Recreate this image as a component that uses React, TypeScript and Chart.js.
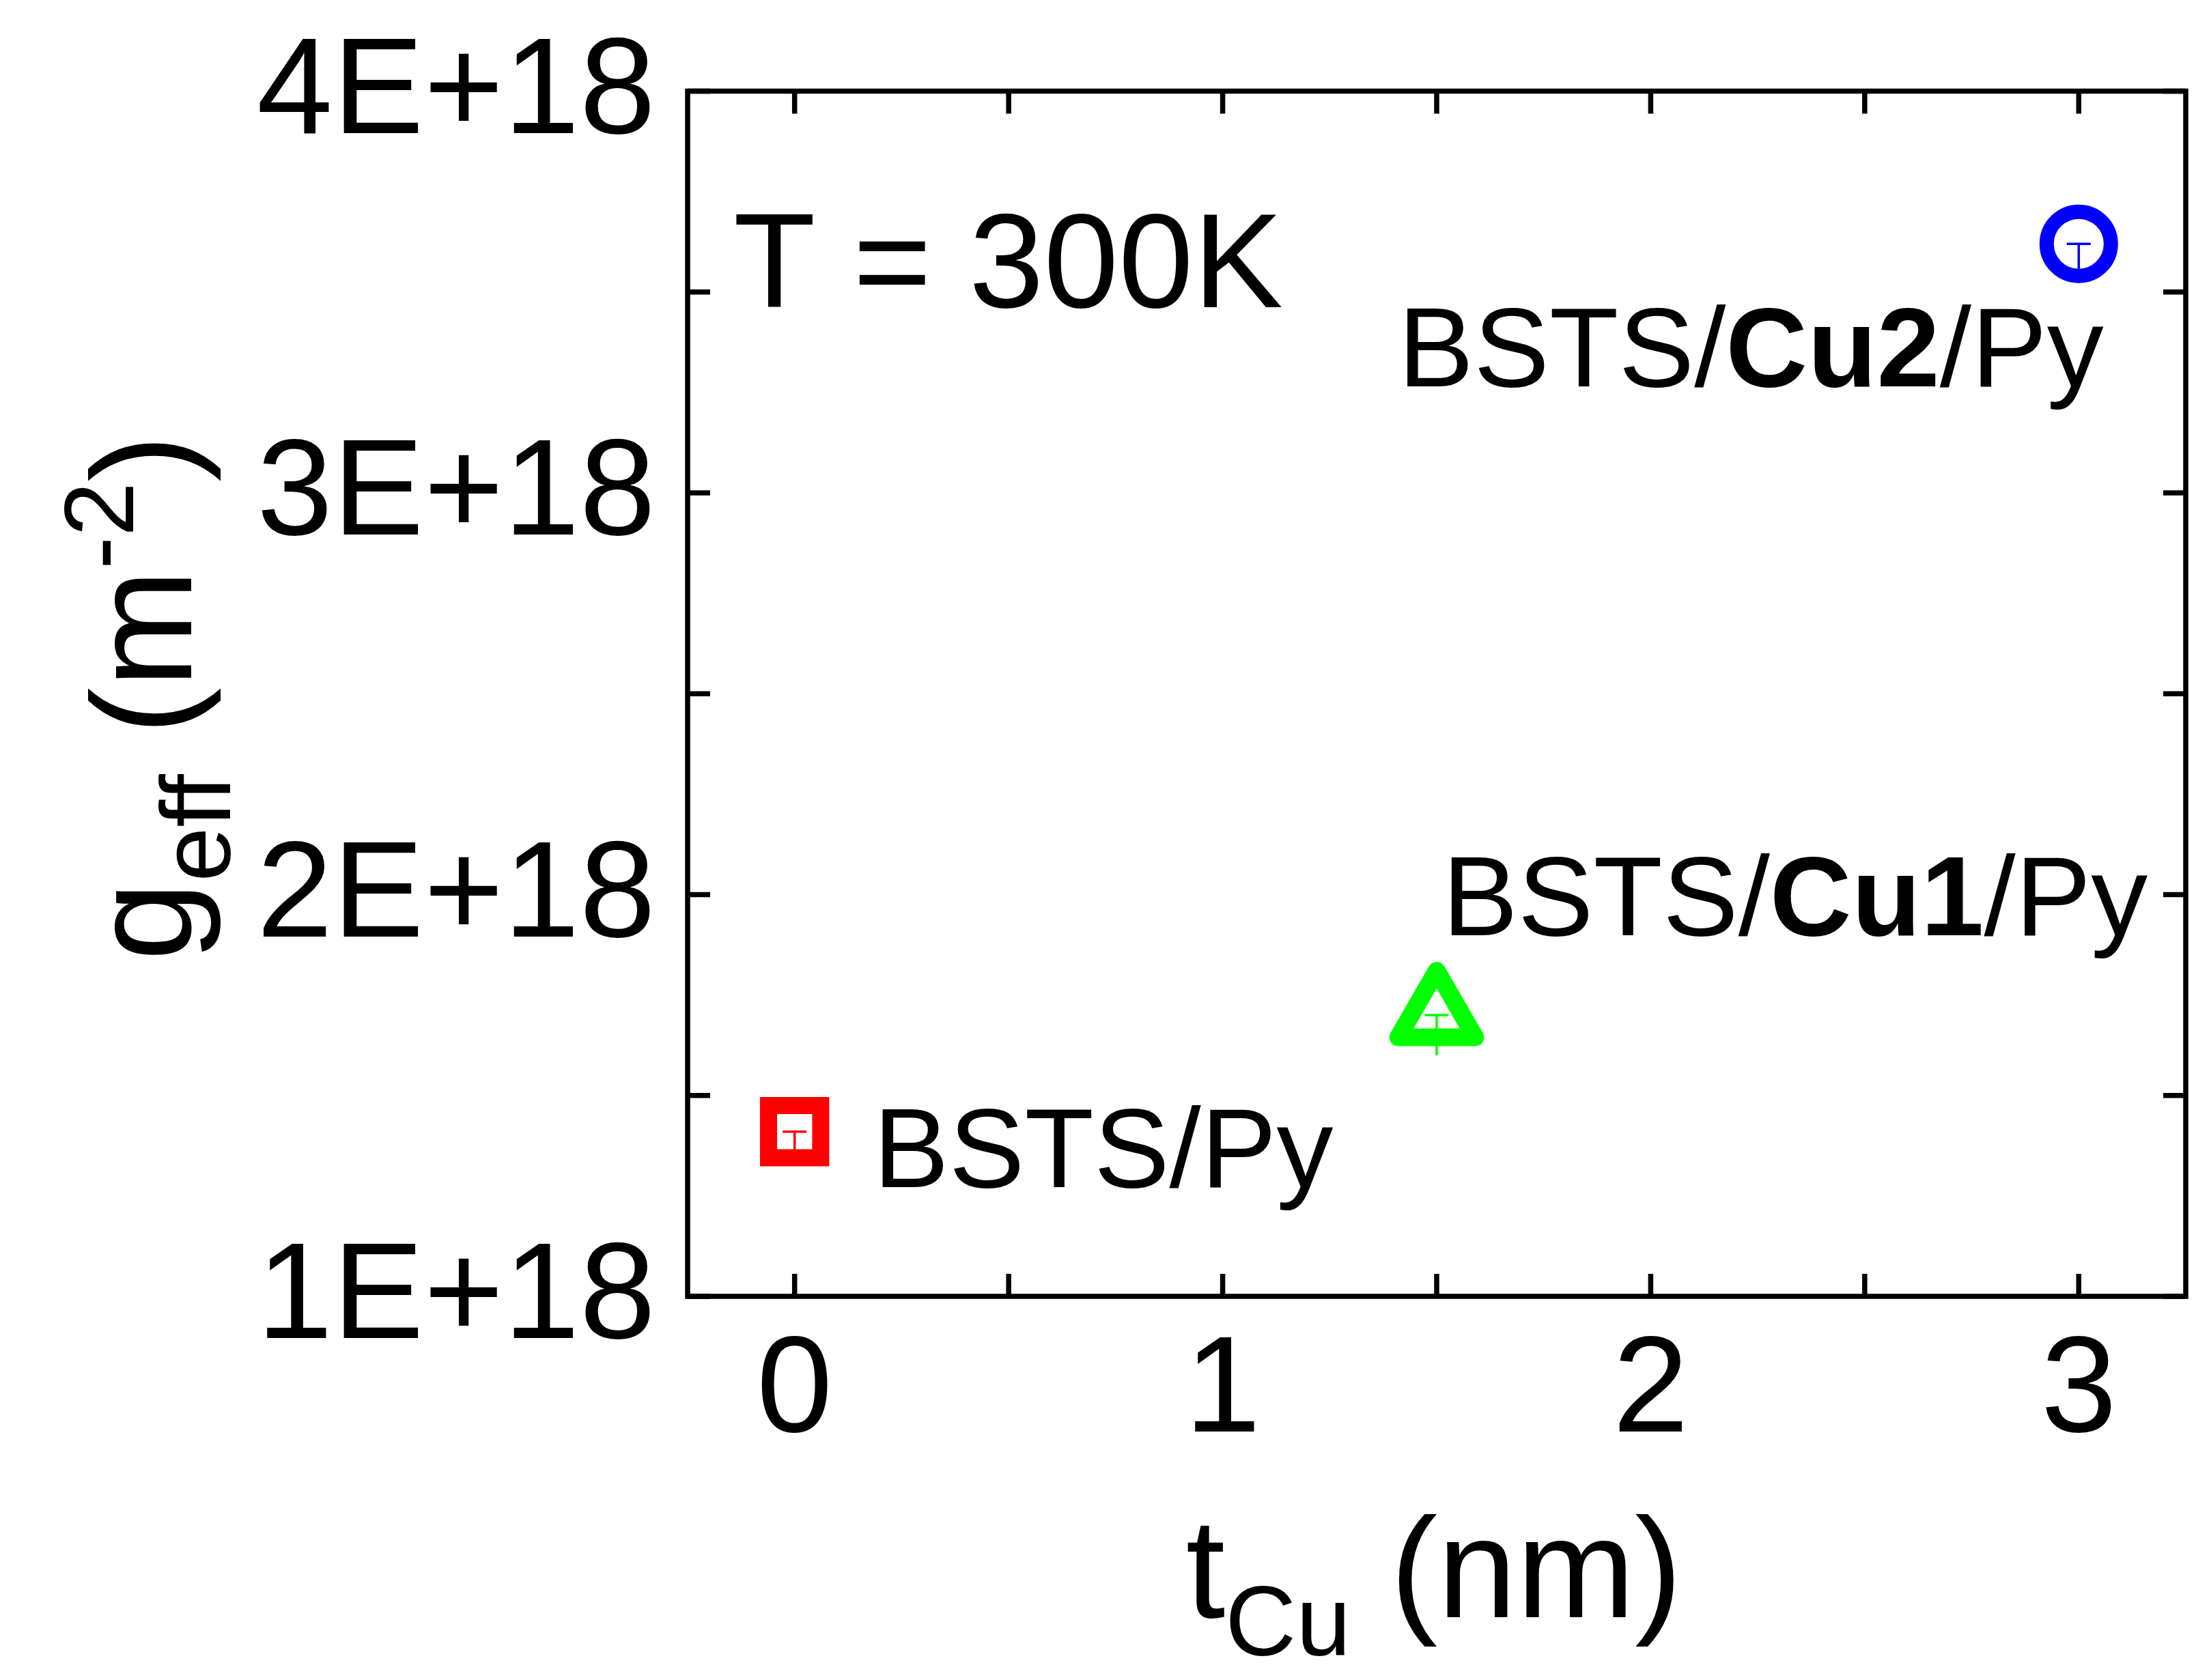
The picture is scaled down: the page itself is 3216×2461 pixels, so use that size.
import React, { useEffect, useRef } from 'react';
import { Chart, registerables } from 'chart.js';

Chart.register(...registerables);

// ---- data ----
const samples = ['BSTS/Py', 'BSTS/Cu1/Py', 'BSTS/Cu2/Py'];
const tCu = [0, 1.5, 3];
const gEff = [1.41e18, 1.70e18, 3.62e18];
const gErr = [0.05e18, 0.10e18, 0.07e18];
const colors = ['#ff0000', '#00ff00', '#0000ff'];
const markerStyles = ['rect', 'triangle', 'circle'];
const markerRadius = [54, 65, 47];
const markerWidth = [25, 26, 21];

const xTicks = [0, 0.5, 1, 1.5, 2, 2.5, 3];
const yTicks = [1e18, 1.5e18, 2e18, 2.5e18, 3e18, 3.5e18, 4e18];

// annotation texts: [text, bold] segments, anchored at data coords (left / baseline)
const noteParts: [string, boolean][][] = [
  [['T = 300K', false]],
  [['BSTS/', false], ['Cu2', true], ['/Py', false]],
  [['BSTS/', false], ['Cu1', true], ['/Py', false]],
  [['BSTS/Py', false]],
];
const noteX = [-0.143, 1.41, 1.513, 0.184];
const noteY = [3.462e18, 3.265e18, 1.899e18, 1.272e18];
const noteSize = [197, 166, 166, 166];

const FONT = '"Liberation Sans", Arial, sans-serif';

const isInt = (v: number) => Math.abs(v - Math.round(v)) < 1e-9;

const errorBarPlugin = {
  id: 'errorBars',
  beforeDatasetDraw(chart: any, args: any) {
    const i = args.index;
    const ctx = chart.ctx;
    const ys = chart.scales.y;
    const meta = args.meta;
    ctx.save();
    ctx.strokeStyle = colors[i];
    ctx.lineWidth = 3.5;
    meta.data.forEach((pt: any) => {
      const x = pt.x;
      const yTop = pt.y;
      const yLow = ys.getPixelForValue(gEff[i] - gErr[i]);
      ctx.beginPath();
      ctx.moveTo(x, yLow);
      ctx.lineTo(x, yTop);
      ctx.moveTo(x - 17.5, yTop);
      ctx.lineTo(x + 17.5, yTop);
      ctx.stroke();
    });
    ctx.restore();
    ctx.lineJoin = markerStyles[i] === 'triangle' ? 'round' : 'miter';
  },
  afterDatasetDraw(chart: any) {
    chart.ctx.lineJoin = 'miter';
  },
};

const framePlugin = {
  id: 'frame',
  afterDraw(chart: any) {
    const ctx = chart.ctx;
    const { left, right, top, bottom } = chart.chartArea;
    const xs = chart.scales.x;
    const ys = chart.scales.y;
    const L = 33;
    ctx.save();
    ctx.strokeStyle = '#000';
    ctx.lineWidth = 7.5;
    ctx.lineCap = 'butt';
    ctx.beginPath();
    xTicks.forEach((v) => {
      const px = xs.getPixelForValue(v);
      ctx.moveTo(px, bottom);
      ctx.lineTo(px, bottom - L);
      ctx.moveTo(px, top);
      ctx.lineTo(px, top + L);
    });
    yTicks.forEach((v) => {
      const py = ys.getPixelForValue(v);
      ctx.moveTo(left, py);
      ctx.lineTo(left + L, py);
      ctx.moveTo(right, py);
      ctx.lineTo(right - L, py);
    });
    ctx.stroke();
    ctx.lineJoin = 'miter';
    ctx.strokeRect(left, top, right - left, bottom - top);
    ctx.restore();
  },
};

type Seg = { t: string; size: number; shift: number; bold?: boolean };

function drawSegs(ctx: CanvasRenderingContext2D, segs: Seg[], x: number, y: number, align: 'left' | 'center') {
  const widths = segs.map((s) => {
    ctx.font = `${s.bold ? 'bold ' : ''}${s.size}px ${FONT}`;
    return ctx.measureText(s.t).width;
  });
  const total = widths.reduce((a, b) => a + b, 0);
  let cx = align === 'center' ? x - total / 2 : x;
  ctx.textAlign = 'left';
  ctx.textBaseline = 'alphabetic';
  segs.forEach((s, k) => {
    ctx.font = `${s.bold ? 'bold ' : ''}${s.size}px ${FONT}`;
    ctx.fillText(s.t, cx, y + s.shift);
    cx += widths[k];
  });
}

const textPlugin = {
  id: 'texts',
  afterDraw(chart: any) {
    const ctx = chart.ctx;
    const xs = chart.scales.x;
    const ys = chart.scales.y;
    ctx.save();
    ctx.fillStyle = '#000';
    noteParts.forEach((parts, k) => {
      const segs = parts.map(([t, b]) => ({ t, bold: b, size: noteSize[k], shift: 0 }));
      drawSegs(ctx, segs, xs.getPixelForValue(noteX[k]), ys.getPixelForValue(noteY[k]), 'left');
    });
    // x title
    drawSegs(
      ctx,
      [
        { t: 't', size: 208, shift: 0 },
        { t: 'Cu', size: 144, shift: 56 },
        { t: ' (nm)', size: 208, shift: 0 },
      ],
      2100,
      2369,
      'center'
    );
    // y title
    ctx.translate(280, 1022);
    ctx.rotate(-Math.PI / 2);
    drawSegs(
      ctx,
      [
        { t: 'g', size: 208, shift: 0 },
        { t: 'eff', size: 144, shift: 57 },
        { t: ' (m', size: 208, shift: 0 },
        { t: '-2', size: 144, shift: -85 },
        { t: ')', size: 208, shift: 0 },
      ],
      0,
      0,
      'center'
    );
    ctx.restore();
  },
};

const zeroPadding = (s: any) => {
  s.paddingLeft = 0;
  s.paddingRight = 0;
  s.paddingTop = 0;
  s.paddingBottom = 0;
};

export default function App() {
  const ref = useRef<HTMLCanvasElement | null>(null);
  useEffect(() => {
    if (!ref.current) return;
    const chart = new Chart(ref.current, {
      type: 'scatter',
      data: {
        datasets: samples.map((name, i) => ({
          label: name,
          data: [{ x: tCu[i], y: gEff[i] }],
          pointStyle: markerStyles[i] as any,
          pointRadius: markerRadius[i],
          pointBorderWidth: markerWidth[i],
          pointBorderColor: colors[i],
          pointBackgroundColor: 'rgba(0,0,0,0)',
          borderColor: colors[i],
          backgroundColor: 'rgba(0,0,0,0)',
          showLine: false,
        })),
      },
      options: {
        animation: false,
        responsive: false,
        maintainAspectRatio: false,
        devicePixelRatio: 1,
        layout: { autoPadding: false, padding: { left: 0, top: 133.5, right: 15, bottom: 0 } },
        plugins: { legend: { display: false }, tooltip: { enabled: false } },
        scales: {
          x: {
            type: 'linear',
            min: -0.25,
            max: 3.25,
            grid: { display: false, drawTicks: false, tickLength: 0 },
            border: { display: false },
            afterBuildTicks: (s: any) => {
              s.ticks = xTicks.map((v) => ({ value: v }));
            },
            afterFit: (s: any) => {
              s.height = 562;
              zeroPadding(s);
            },
            ticks: {
              autoSkip: false,
              maxRotation: 0,
              minRotation: 0,
              padding: 23,
              color: '#000',
              font: { family: FONT, size: 200 },
              callback: (v: any) => (isInt(Number(v)) ? String(Math.round(Number(v))) : ''),
            },
          },
          y: {
            type: 'linear',
            min: 1e18,
            max: 4e18,
            grid: { display: false, drawTicks: false, tickLength: 0 },
            border: { display: false },
            afterBuildTicks: (s: any) => {
              s.ticks = yTicks.map((v) => ({ value: v }));
            },
            afterFit: (s: any) => {
              s.width = 1007;
              zeroPadding(s);
            },
            ticks: {
              autoSkip: false,
              padding: 47,
              labelOffset: 6,
              color: '#000',
              font: { family: FONT, size: 200 },
              callback: (v: any) => {
                const k = Number(v) / 1e18;
                return isInt(k) ? `${Math.round(k)}E+18` : '';
              },
            },
          },
        },
      },
      plugins: [errorBarPlugin, framePlugin, textPlugin],
    } as any);
    return () => chart.destroy();
  }, []);
  return (
    <div style={{ position: 'absolute', left: 0, top: 0, width: 3216, height: 2461, background: '#fff' }}>
      <canvas ref={ref} width={3216} height={2461} style={{ width: 3216, height: 2461, display: 'block' }} />
    </div>
  );
}
